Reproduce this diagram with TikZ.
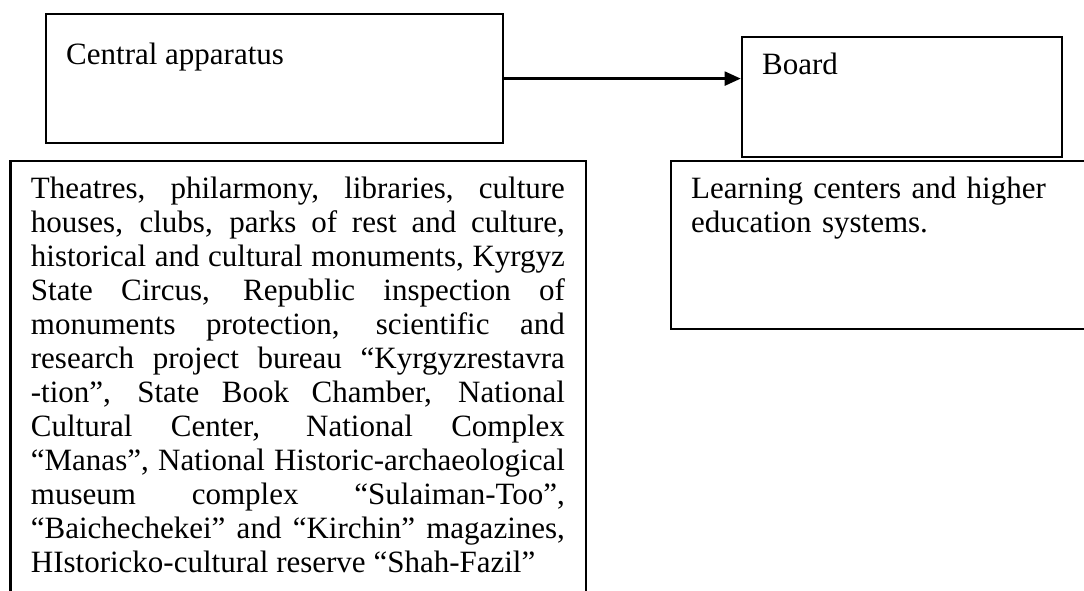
\documentclass[tikz,border=0pt]{standalone}
\usepackage{fontspec}
\setmainfont{Liberation Serif}
\usetikzlibrary{arrows.meta}
\newcommand{\topstrut}{\rule{0pt}{24pt}}
\tikzset{
  box/.style={draw=black, line width=2.2pt, rectangle, inner sep=0pt, anchor=north west},
  txt/.style={inner sep=0pt, font=\fontsize{31pt}{34pt}\selectfont},
  conn/.style={line width=2.2pt, -{Triangle[length=16pt,width=14pt]}}
}
\begin{document}
\begin{tikzpicture}[x=1pt,y=-1pt]
\useasboundingbox (0,0) rectangle (1084,591);
\clip (0,0) rectangle (1084,591);
% boxes
\node[box, minimum width=457.2pt, minimum height=128.6pt] (A) at (44.6,13.2) {};
\node[box, minimum width=320pt, minimum height=119.7pt] (B) at (740.7,36) {};
\node[box, minimum width=430pt, minimum height=168.2pt] (L) at (670,159.5) {};
\node[box, minimum width=575.7pt, minimum height=460pt] (T) at (9.3,160) {};
% texts
\node[txt, anchor=base west] (At) at (66,64.3) {Central apparatus};
\node[txt, anchor=base west] (Bt) at (762,75) {Board};
\node[txt, anchor=north west, text width=400pt, align=left] (Lt) at (691,174.5)
  {\topstrut Learning centers and higher\\education systems.};
\node[txt, anchor=north west, text width=534pt, align=justify] (Tt) at (30.7,174.5)
  {\hyphenpenalty=10000 \exhyphenpenalty=10000 \topstrut Theatres, philarmony, libraries, culture\linebreak
  houses, clubs, parks of rest and culture,\linebreak
  historical and cultural monuments, Kyrgyz\linebreak
  State Circus, Republic inspection of\linebreak
  monuments protection, scientific and\linebreak
  research project bureau “Kyrgyzrestavra\linebreak
  -tion”, State Book Chamber, National\linebreak
  Cultural Center, National Complex\linebreak
  “Manas”, National Historic-archaeological\linebreak
  museum complex “Sulaiman-Too”,\linebreak
  “Baichechekei” and “Kirchin” magazines,\linebreak
  HIstoricko-cultural reserve “Shah-Fazil”\par};
% connector
\draw[conn] (A.east) -- (A.east -| B.west);
\end{tikzpicture}
\end{document}
